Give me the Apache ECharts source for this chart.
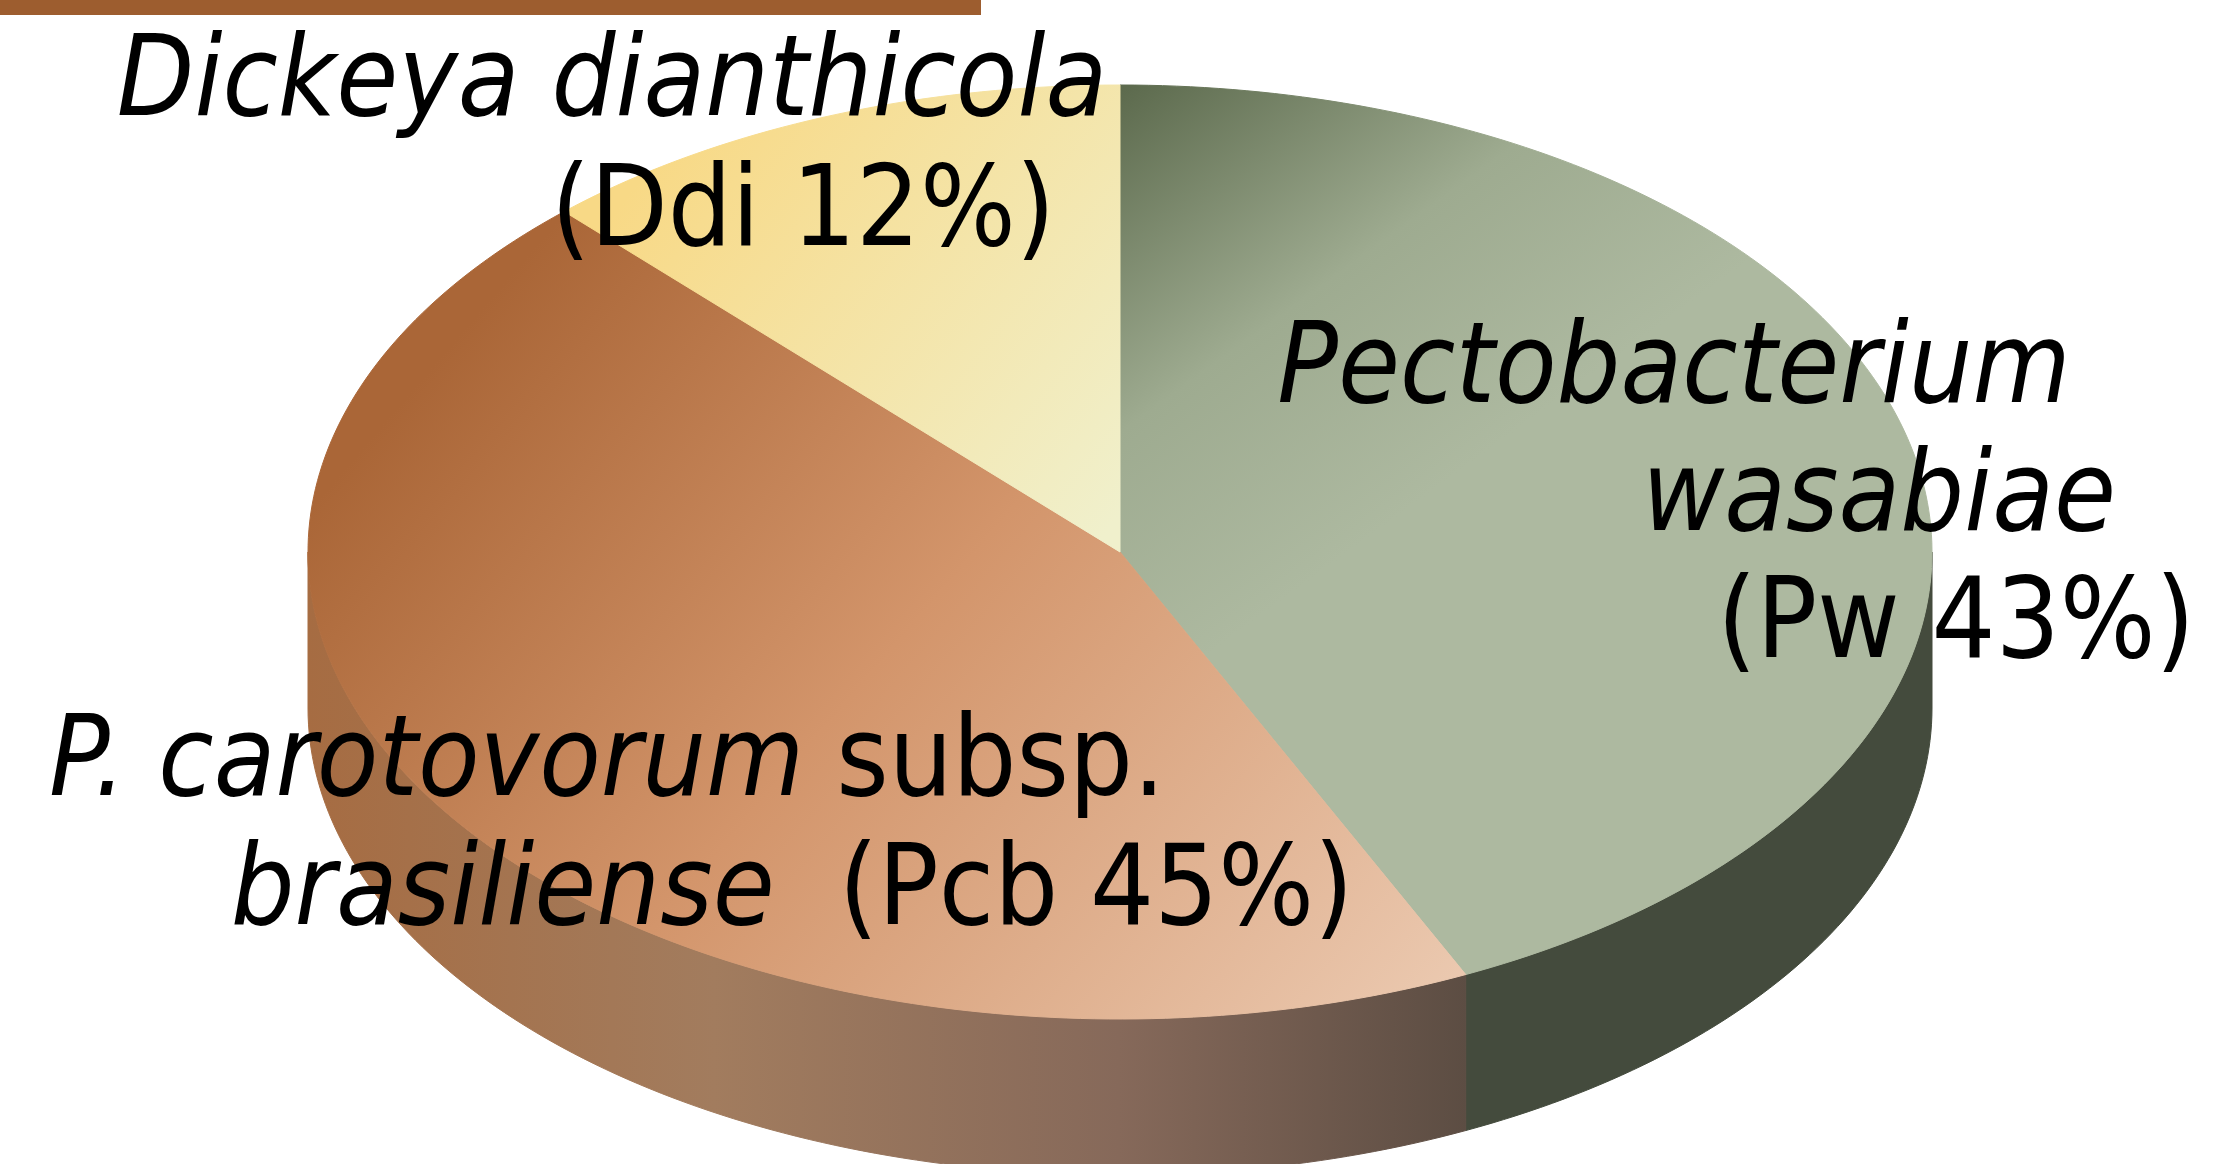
<!DOCTYPE html>
<html>
<head>
<meta charset="utf-8">
<style>
html, body { margin: 0; padding: 0; background: #fff; }
#main { width: 2219px; height: 1164px; }
</style>
<script src="https://cdn.jsdelivr.net/npm/echarts@6/dist/echarts.min.js"></script>
</head>
<body>
<div id="main"></div>
<script>
// data, clockwise from 12 o'clock
const codes = ['Pw', 'Pcb', 'Ddi'];
const shares = [43, 45, 12];
// label lines: italic species part then the (code share%) part
const speciesLines = [
    ['{i|Pectobacterium}', '{i|wasabiae}', ''],
    ['{i|P. carotovorum} {n|subsp.}', '{i|brasiliense}  '],
    ['{i|Dickeya dianthicola}', '']
];

// layout of the fake 3d pie
const CX = 1120, CY = 552, RX = 812, RY = 467, DEPTH = 156;
const FONT = "'DejaVu Sans Condensed', 'DejaVu Sans', sans-serif";
const FS = 112;
// label line anchors [centre x, baseline y]
const labelPos = [
    [[1674, 400], [1879, 528], [1956, 655]],
    [[607, 793], [792, 922]],
    [[612, 113], [803, 243]]
];

const G = echarts.graphic.LinearGradient;
const topFill = [
    new G(1118, 85, 1420, 500, [{offset: 0, color: '#5b694c'}, {offset: 0.55, color: '#9eab90'}, {offset: 1, color: '#adb9a0'}], true),
    new G(559, 219, 1458, 990, [{offset: 0, color: '#aa6637'}, {offset: 0.45, color: '#d3956b'}, {offset: 1, color: '#ebc9b0'}], true),
    new G(640, 180, 1100, 540, [{offset: 0, color: '#f8d986'}, {offset: 1, color: '#f0f0cc'}], true)
];
const wallFill = [
    '#444b3d',
    new G(308, 0, 1467, 0, [{offset: 0, color: '#a66c42'}, {offset: 0.35, color: '#a27c5e'}, {offset: 0.7, color: '#86695a'}, {offset: 1, color: '#5c4d43'}], true),
    '#b8a060'
];

const total = shares.reduce((a, b) => a + b, 0);

function pt(a, dy) {
    return [CX + RX * Math.cos(a), CY - RY * Math.sin(a) + (dy || 0)];
}
function arc(a0, a1, dy) {
    const n = Math.max(2, Math.ceil(Math.abs(a1 - a0) / (Math.PI / 180)));
    const pts = [];
    for (let k = 0; k <= n; k++) pts.push(pt(a0 + (a1 - a0) * k / n, dy));
    return pts;
}

function renderSlice(params, api) {
    const i = params.dataIndex;
    let before = 0;
    for (let k = 0; k < i; k++) before += shares[k];
    const a0 = Math.PI / 2 - before / total * 2 * Math.PI;
    const a1 = a0 - api.value(0) / total * 2 * Math.PI;
    const children = [];
    // side wall, only the front half shows
    [-2 * Math.PI, 0, 2 * Math.PI].forEach(function (s) {
        const lo = Math.max(a1, -Math.PI + s), hi = Math.min(a0, s);
        if (hi > lo) {
            const pts = arc(hi, lo, 0).concat(arc(lo, hi, DEPTH));
            children.push({type: 'polygon', shape: {points: pts},
                style: {fill: wallFill[i], stroke: wallFill[i], lineWidth: 1}});
        }
    });
    children.push({type: 'polygon', shape: {points: [[CX, CY]].concat(arc(a0, a1, 0))},
        style: {fill: topFill[i], stroke: topFill[i], lineWidth: 1}, z2: 10});
    return {type: 'group', children: children};
}

// text graphics
const rich = {
    i: {fontStyle: 'italic', fontSize: FS, fontFamily: FONT, fill: '#000'},
    n: {fontStyle: 'normal', fontSize: FS, fontFamily: FONT, fill: '#000'}
};
const texts = [];
speciesLines.forEach(function (lines, i) {
    lines.forEach(function (t, j) {
        let txt = t;
        if (j === lines.length - 1) txt = t + '{n|(' + codes[i] + ' ' + shares[i] + '%)}';
        const p = labelPos[i][j];
        texts.push({
            type: 'text', z: 100,
            style: {text: txt, x: p[0], y: p[1] - FS * 0.24, align: 'center', verticalAlign: 'middle',
                fontSize: FS, fontFamily: FONT, fill: '#000', rich: rich}
        });
    });
});

let myChart = echarts.init(document.getElementById('main'));
myChart.setOption({
    backgroundColor: '#fff',
    animation: false,
    graphic: [
        {type: 'rect', left: 0, top: 0, z: 50, shape: {width: 981, height: 15}, style: {fill: '#9d5d2f'}}
    ].concat(texts),
    series: [{
        type: 'custom',
        coordinateSystem: 'none',
        silent: true,
        renderItem: renderSlice,
        data: shares.map(function (v, i) { return {name: codes[i], value: [v]}; })
    }]
});
</script>
</body>
</html>
